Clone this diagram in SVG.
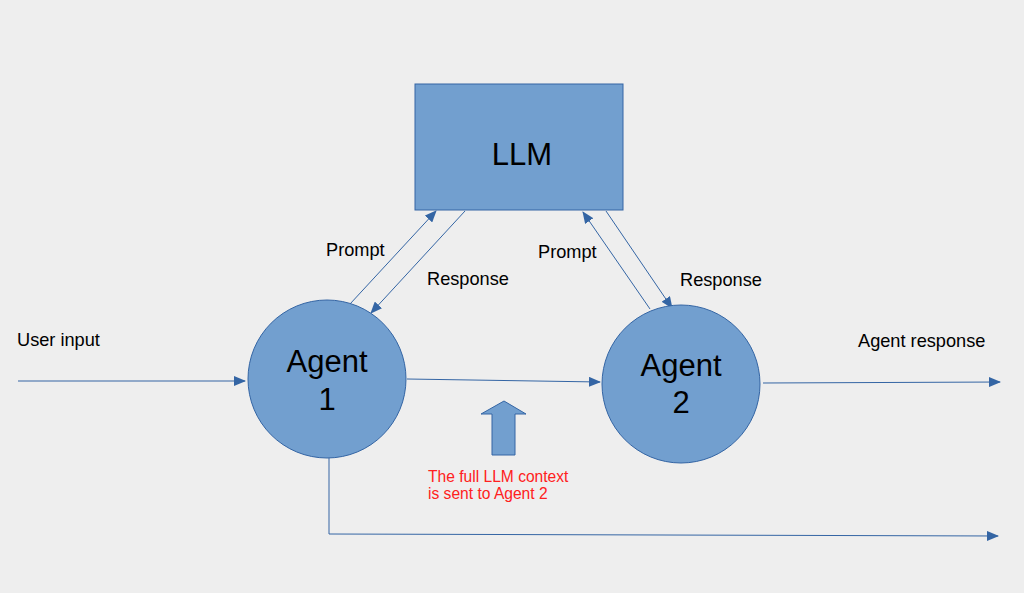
<svg xmlns="http://www.w3.org/2000/svg" width="1024" height="593" viewBox="0 0 1024 593">
<style>
.shape{fill:#729fcf;stroke:#3465a4;stroke-width:1}
.big{font-family:"Liberation Sans",Arial,sans-serif;font-size:31px;fill:#000;text-anchor:middle}
.lbl{font-family:"Liberation Sans",Arial,sans-serif;font-size:18.2px;fill:#000}
.red{font-family:"Liberation Sans",Arial,sans-serif;font-size:15.6px;fill:#ff2020}
.conn{stroke:#3465a4;stroke-width:1;fill:none}
</style>
<defs>
<marker id="ah" markerWidth="12" markerHeight="10" refX="11" refY="5" orient="auto" markerUnits="userSpaceOnUse">
<path d="M0,0 L12,5 L0,10 Z" fill="#3465a4"/>
</marker>
</defs>
<rect width="1024" height="593" fill="#eeeeee"/>
<g id="connectors">
<line class="conn" x1="18" y1="381" x2="245" y2="381" marker-end="url(#ah)"/>
<line class="conn" x1="407" y1="379" x2="600" y2="382" marker-end="url(#ah)"/>
<line class="conn" x1="763" y1="383" x2="1000" y2="382" marker-end="url(#ah)"/>
<polyline class="conn" points="329,458 329,534 998,536" marker-end="url(#ah)"/>
<line class="conn" x1="350" y1="304" x2="436" y2="211" marker-end="url(#ah)"/>
<line class="conn" x1="465" y1="211" x2="371" y2="313" marker-end="url(#ah)"/>
<line class="conn" x1="650" y1="309" x2="583" y2="212" marker-end="url(#ah)"/>
<line class="conn" x1="606" y1="211" x2="672" y2="308" marker-end="url(#ah)"/>
</g>
<g id="llm">
<rect class="shape" x="415" y="84" width="208" height="126"/>
<text class="big" x="522" y="165">LLM</text>
</g>
<g id="agent1">
<circle class="shape" cx="327" cy="379" r="79"/>
<text class="big" x="327" y="372">Agent</text>
<text class="big" x="327" y="410">1</text>
</g>
<g id="agent2">
<circle class="shape" cx="681" cy="384" r="79"/>
<text class="big" x="681" y="376">Agent</text>
<text class="big" x="681" y="413">2</text>
</g>
<g id="context-arrow">
<path class="shape" d="M504,401 L526,414 L515,414 L515,455 L492,455 L492,414 L481,414 Z"/>
</g>
<g id="labels">
<text class="lbl" x="326" y="256">Prompt</text>
<text class="lbl" x="427" y="285">Response</text>
<text class="lbl" x="538" y="258">Prompt</text>
<text class="lbl" x="680" y="286">Response</text>
<text class="lbl" x="17" y="346">User input</text>
<text class="lbl" x="858" y="347">Agent response</text>
<text class="red" x="428" y="482">The full LLM context</text>
<text class="red" x="428" y="499">is sent to Agent 2</text>
</g>
</svg>
